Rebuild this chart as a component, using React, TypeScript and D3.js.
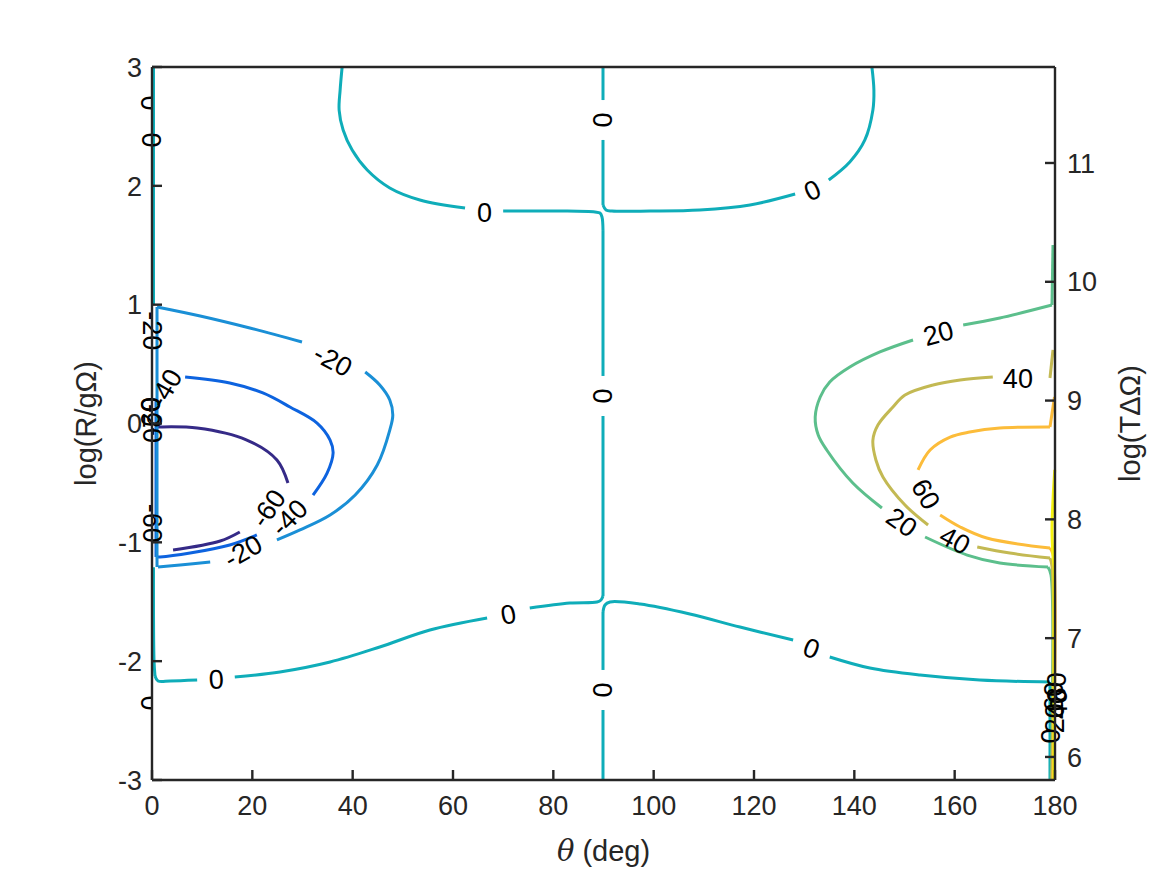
import React from "react";
import * as d3 from "d3";

// ---------- data ----------
const xTicks = [0, 20, 40, 60, 80, 100, 120, 140, 160, 180];
const yTicks = [-3, -2, -1, 0, 1, 2, 3];
const yRightTicks = [6, 7, 8, 9, 10, 11];
const levels = [-60, -40, -20, 0, 20, 40, 60, 80];
const levelColors = ["#352a87", "#0d63df", "#1a8fd6", "#0fadb9", "#5cbf8c", "#c3b953", "#fcbc3a", "#f5f20f"];

type Pt = [number, number];
// contour segments: [theta (deg), log(R/gΩ)]
const contour0: Pt[][] = [
  [[37.9, 3.0], [37.5, 2.806], [37.3, 2.638], [38.1, 2.47], [39.9, 2.301], [42.9, 2.133], [47.4, 1.982], [53.4, 1.881], [62.4, 1.813]],
  [[70.0, 1.788], [81.3, 1.788], [88.3, 1.78], [89.3, 1.771], [89.7, 1.738], [89.9, 1.628]],
  [[89.9, 1.628], [89.9, 0.4]],
  [[89.9, 0.063], [89.9, -1.452]],
  [[89.9, -1.452], [89.5, -1.485], [88.7, -1.502], [83.3, -1.511], [75.3, -1.553]],
  [[66.8, -1.637], [55.4, -1.738], [45.4, -1.881], [35.5, -2.007], [25.5, -2.091], [16.5, -2.133]],
  [[9.0, -2.159], [3.6, -2.167], [1.2, -2.167], [0.6, -2.125]],
  [[0.6, -2.125], [0.4, -1.99], [0.3, -1.21]],
  [[89.9, 3.0], [89.9, 2.722]],
  [[89.9, 2.386], [89.9, 1.839]],
  [[89.9, 1.839], [90.5, 1.797], [91.7, 1.788], [99.3, 1.788], [109.2, 1.797], [119.2, 1.839], [128.2, 1.931]],
  [[134.9, 2.049], [139.1, 2.201], [142.1, 2.386], [143.7, 2.638], [143.9, 2.806], [143.5, 3.0]],
  [[179.0, -2.175], [165.0, -2.159], [153.1, -2.117], [143.1, -2.058], [135.1, -1.965]],
  [[127.8, -1.822], [117.2, -1.713], [107.2, -1.603], [97.3, -1.519], [91.3, -1.502], [90.3, -1.527], [89.9, -1.586]],
  [[89.9, -1.586], [89.9, -2.074]],
  [[89.9, -2.411], [89.9, -3.0]],
  [[179.0, -2.175], [179.0, -3.0]],
  [[0.3, 3.0], [0.3, 1.0]],
];
const contourM20: Pt[][] = [
  [[1.0, -1.208], [1.0, 0.981]],
  [[1.0, 0.981], [9.6, 0.905], [19.5, 0.804], [29.9, 0.686]],
  [[42.5, 0.433], [45.4, 0.324], [47.4, 0.198], [48.0, 0.072], [47.4, -0.055], [44.9, -0.349], [40.5, -0.602], [35.5, -0.77], [29.5, -0.896], [24.9, -0.98]],
  [[11.6, -1.166], [5.6, -1.191], [1.2, -1.208]],
];
const contourM40: Pt[][] = [
  [[6.6, 0.391], [15.5, 0.341], [22.1, 0.257], [27.5, 0.139], [32.9, 0.004], [35.5, -0.139], [36.1, -0.248], [34.9, -0.417], [32.1, -0.602]],
  [[20.9, -0.938], [15.5, -1.022], [7.6, -1.09], [1.6, -1.123], [0.8, -1.123]],
  [[0.8, -1.123], [0.8, 0.198]],
];
const contourM60: Pt[][] = [
  [[0.9, -0.62], [0.9, -0.029]],
  [[0.9, -0.029], [1.2, -0.029], [9.0, -0.038], [18.9, -0.139], [24.9, -0.307], [27.1, -0.501]],
  [[17.5, -0.913], [13.6, -0.989], [4.2, -1.065]],
];
const contour20: Pt[][] = [
  [[179.6, 1.502], [179.4, 0.997]],
  [[179.4, 0.997], [169.0, 0.888], [161.7, 0.829]],
  [[151.7, 0.703], [145.1, 0.602], [139.1, 0.475], [135.1, 0.349], [133.2, 0.223], [132.2, 0.055], [132.8, -0.097], [134.5, -0.223], [139.7, -0.501], [145.5, -0.711]],
  [[154.1, -0.955], [162.5, -1.107], [169.0, -1.174], [178.6, -1.208]],
  [[178.6, -1.208], [179.2, -1.275], [179.2, -3.0]],
];
const contour40: Pt[][] = [
  [[179.6, 0.62], [179.0, 0.383]],
  [[167.6, 0.391], [161.1, 0.366], [155.7, 0.324], [150.1, 0.24], [147.7, 0.139], [144.7, -0.013], [143.7, -0.139], [144.3, -0.307], [145.7, -0.45], [150.1, -0.686], [154.7, -0.854]],
  [[164.5, -1.039], [171.0, -1.09], [179.0, -1.132]],
  [[179.0, -1.132], [179.4, -1.2], [179.4, -3.0]],
];
const contour60: Pt[][] = [
  [[179.9, 0.223], [179.0, -0.029]],
  [[179.0, -0.029], [169.0, -0.038], [163.0, -0.072], [159.1, -0.114], [155.1, -0.223], [152.7, -0.391]],
  [[157.1, -0.77], [161.1, -0.871], [166.4, -0.964], [179.0, -1.048]],
  [[179.0, -1.048], [179.6, -1.1], [179.6, -3.0]],
];
const contour80: Pt[][] = [
  [[179.95, -0.391], [179.6, -0.644], [179.4, -0.896], [179.6, -1.107], [179.8, -1.2]],
  [[179.8, -1.2], [179.8, -3.0]],
];
const contourSets = [contourM60, contourM40, contourM20, contour0, contour20, contour40, contour60, contour80];

// labels: [theta, logR, text, rotation]
type Lab = [number, number, string, number];
const labels: Lab[] = [
  [66.3, 1.78, "0", 0],
  [131.6, 1.965, "0", -25],
  [89.9, 2.554, "0", 90],
  [89.9, 0.231, "0", 90],
  [89.9, -2.243, "0", 90],
  [71.0, -1.603, "0", -11],
  [12.8, -2.15, "0", -3],
  [131.5, -1.889, "0", 22],
  [36.1, 0.534, "-20", 28],
  [18.1, -1.073, "-20", -30],
  [27.3, -0.79, "-40", -45],
  [23.1, -0.711, "-60", -55],
  [2.6, 0.299, "-40", -60],
  [156.7, 0.762, "20", -15],
  [172.6, 0.383, "40", 0],
  [149.5, -0.829, "20", 35],
  [160.1, -0.98, "40", 28],
  [154.3, -0.593, "60", 60],
  [0.0, 2.386, "0", 90],
  [0.1, -0.84, "-60", 90],
  [0.1, 0.0, "-20", 90],
  [-0.3, 0.06, "-60", -90],
  [-0.2, 0.16, "0", 90],
  [0.2, 0.78, "-20", 90],
  [179.0, -2.63, "0", -90],
  [179.8, -2.48, "20", -90],
  [180.4, -2.36, "40", -90],
  [179.6, -2.3, "60", -90],
  [180.2, -2.22, "80", -90],
];
const clippedLabels: Lab[] = [
  [-0.3, 2.697, "0", 90],
  [-0.3, -2.352, "0", 90],
];

// ---------- chart ----------
const W = 1167;
const H = 875;
const L = 152, R = 1055, T = 67, B = 780;
const FONT = "'Liberation Sans', Arial, Helvetica, sans-serif";
const AX = "#262626";

export default function App() {
  const x = d3.scaleLinear().domain([0, 180]).range([L, R]);
  const y = d3.scaleLinear().domain([-3, 3]).range([B, T]);
  const yR = d3.scaleLinear().domain([5.806, 11.808]).range([B, T]);
  const line = d3
    .line<Pt>()
    .x((d) => x(d[0]))
    .y((d) => y(d[1]))
    .curve(d3.curveCatmullRom.alpha(0.5));

  const tickLen = 10;
  return (
    <svg width={W} height={H} style={{ position: "absolute", left: 0, top: 0, background: "#fff" }} fontFamily={FONT}>
      <defs>
        <clipPath id="leftOfAxis">
          <rect x={0} y={0} width={L} height={H} />
        </clipPath>
      </defs>
      <rect x={0} y={0} width={W} height={H} fill="#fff" />
      {/* contours */}
      {contourSets.map((segs, i) => (
        <g key={i} stroke={levelColors[i]} strokeWidth={3} fill="none" strokeLinejoin="round">
          {segs.map((s, j) => (
            <path key={j} d={line(s) || ""} />
          ))}
        </g>
      ))}
      {/* contour labels */}
      <g fontSize={27} fill="#000" textAnchor="middle">
        {labels.map((l, i) => (
          <text key={i} transform={`translate(${x(l[0])},${y(l[1])}) rotate(${l[3]})`} dy="0.36em">
            {l[2]}
          </text>
        ))}
        <g clipPath="url(#leftOfAxis)">
          {clippedLabels.map((l, i) => (
            <text key={i} transform={`translate(${x(l[0])},${y(l[1])}) rotate(${l[3]})`} dy="0.36em">
              {l[2]}
            </text>
          ))}
        </g>
      </g>
      {/* axes box */}
      <g stroke={AX} strokeWidth={2.4} fill="none">
        <path d={`M${L},${B}H${R}`} />
        <path d={`M${L},${T}H${R}`} />
        <path d={`M${L},${T}V${B}`} />
        <path d={`M${R},${T}V${B}`} />
        {xTicks.map((t) => (
          <path key={"xt" + t} d={`M${x(t)},${B}v${-tickLen}`} />
        ))}
        {yTicks.map((t) => (
          <path key={"yt" + t} d={`M${L},${y(t)}h${tickLen}`} />
        ))}
        {yRightTicks.map((t) => (
          <path key={"yr" + t} d={`M${R},${yR(t)}h${-tickLen}`} />
        ))}
      </g>
      {/* tick labels */}
      <g fontSize={27} fill={AX}>
        {xTicks.map((t) => (
          <text key={"xl" + t} x={x(t)} y={B + 35} textAnchor="middle">
            {t}
          </text>
        ))}
        {yTicks.map((t) => (
          <text key={"yl" + t} x={L - 10} y={y(t)} dy="0.36em" textAnchor="end">
            {t}
          </text>
        ))}
        {yRightTicks.map((t) => (
          <text key={"yrl" + t} x={R + 12} y={yR(t)} dy="0.36em" textAnchor="start">
            {t}
          </text>
        ))}
      </g>
      {/* axis labels */}
      <g fontSize={29} fill={AX} textAnchor="middle">
        <text x={(L + R) / 2} y={861}>
          <tspan fontStyle="italic" fontFamily="'DejaVu Serif', 'Liberation Serif', serif">θ</tspan> (deg)
        </text>
        <text transform={`translate(96,${(T + B) / 2}) rotate(-90)`}>log(R/gΩ)</text>
        <text transform={`translate(1140,${(T + B) / 2}) rotate(-90)`}>log(TΔΩ)</text>
      </g>
    </svg>
  );
}
